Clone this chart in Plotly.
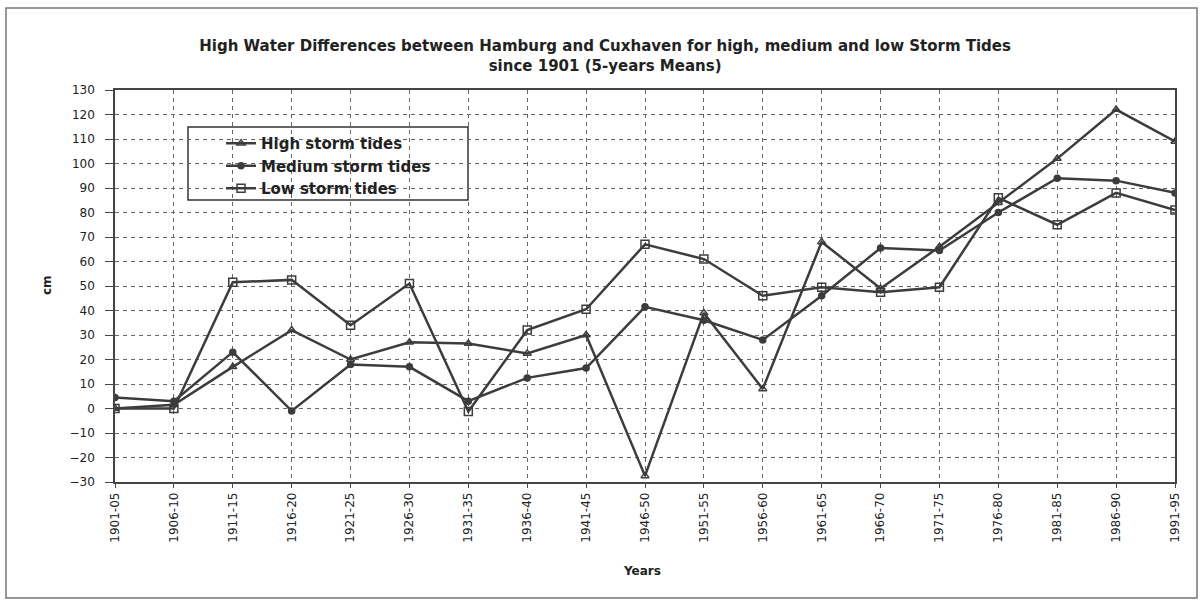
import plotly.graph_objects as go

periods = ["1901-05", "1906-10", "1911-15", "1916-20", "1921-25", "1926-30", "1931-35",
           "1936-40", "1941-45", "1946-50", "1951-55", "1956-60", "1961-65", "1966-70",
           "1971-75", "1976-80", "1981-85", "1986-90", "1991-95"]

high_storm = [0, 1.5, 17, 32, 20, 27, 26.5, 22.5, 30, -27.5, 39, 8, 68, 49, 66, 84, 102, 122, 109]
medium_storm = [4.5, 3, 23, -1, 18, 17, 3, 12.5, 16.5, 41.5, 36, 28, 46, 65.5, 64.5, 80, 94, 93, 88]
low_storm = [0, 0, 51.5, 52.5, 34, 51, -1.2, 32, 40.5, 67, 61, 46, 49.5, 47.5, 49.5, 86, 75, 88, 81]

y_ticks = list(range(-30, 131, 10))

LINE = "#3c3c3c"
FONT = "DejaVu Sans"

fig = go.Figure()
series = [
    ("High storm tides", high_storm, "triangle-up-open", 7, "white"),
    ("Medium storm tides", medium_storm, "circle", 6, LINE),
    ("Low storm tides", low_storm, "square-open", 8, "white"),
]
for name, vals, sym, size, fill in series:
    fig.add_trace(go.Scatter(
        x=list(range(len(periods))), y=vals, name=name, mode="lines+markers",
        line=dict(color=LINE, width=2.5),
        marker=dict(symbol=sym, size=size, color=LINE,
                    line=dict(color=LINE, width=1.5)),
    ))

fig.update_layout(
    width=1203, height=610,
    margin=dict(l=115, r=28, t=90, b=128),
    paper_bgcolor="white", plot_bgcolor="white",
    font=dict(family=FONT, color="#222", size=12),
    title=dict(
        text="<b>High Water Differences between Hamburg and Cuxhaven for high, medium and low Storm Tides<br>since 1901 (5-years Means)</b>",
        x=0.503, xanchor="center", y=1 - 51 / 610, yanchor="top",
        font=dict(family=FONT, size=15, color="#222"),
    ),
    showlegend=True,
    legend=dict(
        x=(221 - 115) / 1060, xanchor="left",
        y=1 - (127 - 90) / 392, yanchor="top",
        bgcolor="rgba(0,0,0,0)", borderwidth=0,
        font=dict(family=FONT, size=15, color="#222", weight="bold"),
        itemwidth=30,
    ),
    xaxis=dict(
        range=[0, len(periods) - 1],
        tickmode="array", tickvals=list(range(len(periods))), ticktext=periods,
        tickangle=-90, tickfont=dict(family=FONT, size=12, color="#222"),
        showgrid=True, gridcolor="#666", griddash="4px,4px", gridwidth=1,
        showline=True, linecolor="#444", linewidth=1.5, mirror=True,
        ticks="outside", ticklen=4, tickcolor="#444",
        zeroline=False,
    ),
    yaxis=dict(
        range=[-30, 130],
        tickmode="array", tickvals=y_ticks,
        tickfont=dict(family=FONT, size=12, color="#222"),
        showgrid=True, gridcolor="#666", griddash="4px,4px", gridwidth=1,
        showline=True, linecolor="#444", linewidth=1.5, mirror=True,
        ticks="outside", ticklen=8, tickcolor="#444",
        ticklabelstandoff=8,
        zeroline=False,
    ),
    annotations=[
        dict(text="<b>cm</b>", xref="paper", yref="paper",
             x=(38 - 115) / 1060, y=1 - (285 - 90) / 392,
             textangle=-90, showarrow=False,
             font=dict(family=FONT, size=12, color="#222")),
        dict(text="<b>Years</b>", xref="paper", yref="paper",
             x=(642 - 115) / 1060, y=1 - (580 - 90) / 392,
             showarrow=False,
             font=dict(family=FONT, size=12, color="#222")),
    ],
    shapes=[
        dict(type="rect", xref="paper", yref="paper",
             x0=(188 - 115) / 1060, x1=(468 - 115) / 1060,
             y0=1 - (200 - 90) / 392, y1=1 - (127 - 90) / 392,
             fillcolor="white", line=dict(color="#333", width=1.5), layer="between"),
        dict(type="rect", xref="paper", yref="paper",
             x0=(6 - 115) / 1060, x1=(1197 - 115) / 1060,
             y0=1 - (598 - 90) / 392, y1=1 - (8 - 90) / 392,
             fillcolor="rgba(0,0,0,0)", line=dict(color="#777", width=1.5), layer="below"),
    ],
)

fig.write_html("out.html")
